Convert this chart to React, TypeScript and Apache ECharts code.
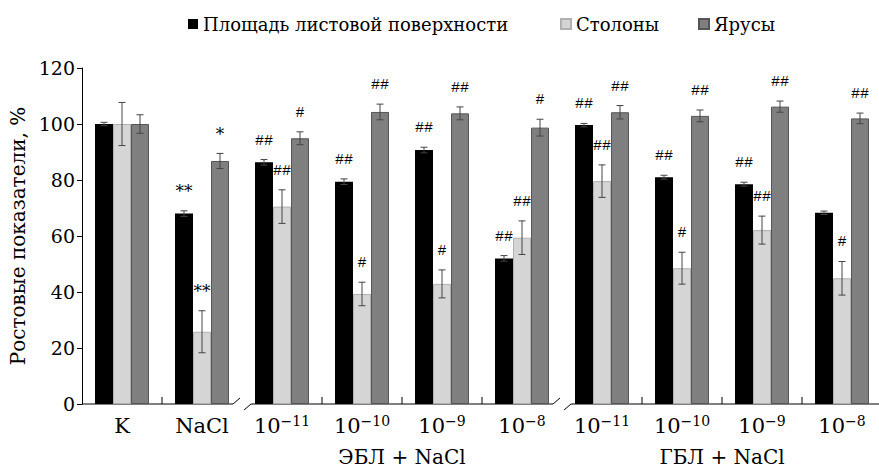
import { useEffect, useRef } from 'react';
import * as echarts from 'echarts';

const categories = ['K', 'NaCl', 'ЭБЛ 10−11', 'ЭБЛ 10−10', 'ЭБЛ 10−9', 'ЭБЛ 10−8', 'ГБЛ 10−11', 'ГБЛ 10−10', 'ГБЛ 10−9', 'ГБЛ 10−8'];
const seriesNames = ['Площадь листовой поверхности', 'Столоны', 'Ярусы'];
const leafArea = [100, 68, 86.3, 79.4, 90.7, 52, 99.6, 81, 78.5, 68.3];
const leafAreaErr = [0.6, 1, 1, 1, 1, 1, 0.6, 0.7, 0.7, 0.6];
const stolons = [100, 25.8, 70.5, 39.3, 42.9, 59.4, 79.6, 48.5, 62.1, 44.9];
const stolonsErr = [7.7, 7.5, 6, 4.2, 5, 6, 5.8, 5.7, 5, 6];
const tiers = [100, 86.8, 94.9, 104.3, 103.8, 98.7, 104.2, 102.9, 106.2, 102];
const tiersErr = [3.3, 2.7, 2.3, 2.8, 2.3, 3, 2.4, 2.1, 2, 1.9];
const leafAreaMarks = ['', '**', '##', '##', '##', '##', '##', '##', '##', ''];
const stolonsMarks = ['', '**', '##', '#', '#', '##', '##', '#', '##', '#'];
const tiersMarks = ['', '*', '#', '##', '##', '#', '##', '##', '##', '##'];
const groupLabels = ['ЭБЛ + NaCl', 'ГБЛ + NaCl'];
const groupRanges = [[2, 5], [6, 9]];
const breaksAfter = [1, 5];
const yMin = 0;
const yMax = 120;
const yStep = 20;

const FONT = 'DejaVu Serif';
const MARK_FONT = 'Liberation Mono';
const BAR_FRAC = 0.225;
const colors = ['#000000', '#d5d5d5', '#7f7f7f'];
const borders = ['#000000', '#b0b0b0', '#555555'];
const legendLefts = [183, 555, 693];

export default function App() {
  const ref = useRef<HTMLDivElement>(null);
  useEffect(() => {
    if (!ref.current) return;
    const chart = echarts.init(ref.current, undefined, { renderer: 'svg' });
    const values = [leafArea, stolons, tiers];
    const errs = [leafAreaErr, stolonsErr, tiersErr];
    const marks = [leafAreaMarks, stolonsMarks, tiersMarks];

    const barSeries = values.map((vals, k) => ({
      name: seriesNames[k],
      type: 'bar',
      data: vals,
      barWidth: (BAR_FRAC * 100) + '%',
      barGap: '0%',
      itemStyle: { color: colors[k], borderColor: borders[k], borderWidth: k === 0 ? 0 : 1 },
      z: 2,
    }));

    const errSeries = values.map((vals, k) => ({
      type: 'custom',
      name: 'err' + k,
      z: 3,
      clip: false,
      data: vals.map((v, i) => [i, v, errs[k][i]]),
      renderItem: (params: any, api: any) => {
        const i = api.value(0);
        const v = api.value(1);
        const e = api.value(2);
        const bw = api.size([1, 0])[0] * BAR_FRAC;
        const off = (k - 1) * bw;
        const top = api.coord([i, v + e]);
        const bot = api.coord([i, v - e]);
        const x = top[0] + off;
        const cap = 3.5;
        const st = { stroke: '#444', lineWidth: 1 };
        const children: any[] = [
          { type: 'line', shape: { x1: x, y1: top[1], x2: x, y2: bot[1] }, style: st },
          { type: 'line', shape: { x1: x - cap, y1: top[1], x2: x + cap, y2: top[1] }, style: st },
          { type: 'line', shape: { x1: x - cap, y1: bot[1], x2: x + cap, y2: bot[1] }, style: st },
        ];
        const m = marks[k][params.dataIndex];
        if (m) {
          const star = m.indexOf('*') >= 0;
          children.push({
            type: 'text', x, y: top[1] - 11,
            style: {
              text: m, fill: '#000',
              fontSize: star ? 17 : 15,
              fontFamily: star ? FONT : MARK_FONT,
              align: 'center', verticalAlign: 'bottom',
            },
          });
        }
        return { type: 'group', children };
      },
    }));

    chart.setOption({
      animation: false,
      legend: seriesNames.map((n, k) => ({
        data: [n],
        left: legendLefts[k],
        top: 10,
        itemWidth: 10,
        itemHeight: 10,
        itemGap: 0,
        icon: 'rect',
        textStyle: { fontFamily: FONT, fontSize: 18, color: '#000' },
      })),
      grid: { left: 82, top: 68, width: 800, height: 336, outerBoundsMode: 'none', containLabel: false },
      xAxis: {
        type: 'category',
        data: categories,
        axisLine: { show: false },
        axisTick: { show: false },
        axisLabel: {
          margin: 10,
          interval: 0,
          formatter: (val: string) => {
            const m = val.match(/10(−\d+)$/);
            if (m) return '{b|10}{s|' + m[1] + '}';
            return '{b|' + val + '}';
          },
          rich: {
            b: { fontFamily: FONT, fontSize: 21, color: '#000', lineHeight: 24 },
            s: { fontFamily: FONT, fontSize: 14, color: '#000', verticalAlign: 'top', lineHeight: 14 },
          },
        },
      },
      yAxis: {
        type: 'value',
        min: yMin,
        max: yMax,
        interval: yStep,
        name: 'Ростовые показатели, %',
        nameLocation: 'middle',
        nameGap: 54,
        nameTextStyle: { fontFamily: FONT, fontSize: 20, color: '#000' },
        axisLine: { show: true, lineStyle: { color: '#000', width: 1 } },
        axisTick: { show: true, length: 5, lineStyle: { color: '#000' } },
        axisLabel: { fontFamily: FONT, fontSize: 19, color: '#000', margin: 7 },
        splitLine: { show: false },
      },
      series: [...barSeries, ...errSeries],
    });

    const px = (i: number) => chart.convertToPixel({ xAxisIndex: 0 }, i) as number;
    const y0 = chart.convertToPixel({ yAxisIndex: 0 }, 0) as number;
    const catW = px(1) - px(0);
    const left = px(0) - catW / 2;
    const right = px(categories.length - 1) + catW / 2;
    const ls = { stroke: '#000', lineWidth: 1 };
    const g: any[] = [];
    let start = left;
    breaksAfter.forEach((b) => {
      const bx = (px(b) + px(b + 1)) / 2;
      g.push({ type: 'line', shape: { x1: start, y1: y0, x2: bx - 9, y2: y0 }, style: ls });
      g.push({ type: 'line', shape: { x1: bx - 9, y1: y0, x2: bx - 2, y2: y0 - 6 }, style: ls });
      g.push({ type: 'line', shape: { x1: bx + 2, y1: y0 + 6, x2: bx + 9, y2: y0 }, style: ls });
      start = bx + 9;
    });
    g.push({ type: 'line', shape: { x1: start, y1: y0, x2: right, y2: y0 }, style: ls });
    for (let i = 0; i < categories.length - 1; i++) {
      if (breaksAfter.includes(i)) continue;
      const bx = (px(i) + px(i + 1)) / 2;
      g.push({ type: 'line', shape: { x1: bx, y1: y0, x2: bx, y2: y0 - 7 }, style: ls });
    }
    groupRanges.forEach((r, gi) => {
      const cx = (px(r[0]) + px(r[1])) / 2;
      g.push({
        type: 'text', x: cx, y: y0 + 53,
        style: { text: groupLabels[gi], fill: '#000', fontSize: 20, fontFamily: FONT, align: 'center', verticalAlign: 'middle' },
      });
    });
    chart.setOption({ graphic: g });

    return () => chart.dispose();
  }, []);
  return <div ref={ref} style={{ position: 'absolute', left: 0, top: 0, width: 879, height: 469 }} />;
}
